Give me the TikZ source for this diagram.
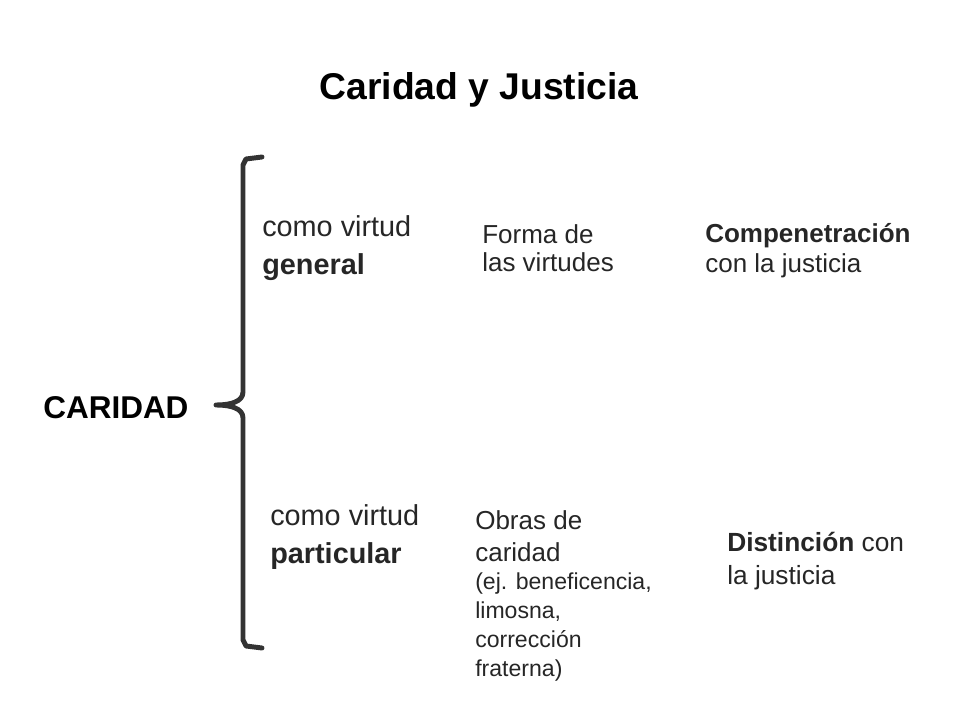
\documentclass[tikz,border=0pt]{standalone}
\usepackage{fontspec}
\setmainfont{Liberation Sans}
\usetikzlibrary{positioning}
\tikzset{
  txt/.style={anchor=north west, inner sep=0pt, align=left, text=black!85},
  brace/.style={line width=3.5pt, draw=black!80, line cap=round, line join=round},
}
\begin{document}
\begin{tikzpicture}[x=0.025cm, y=-0.025cm]
\useasboundingbox (0,0) rectangle (960,720);
\node (title) [inner sep=0pt, font=\fontsize{26.5}{30}\selectfont\bfseries] at (479,90) {Caridad y Justicia};

% llave
\draw [brace] (262,157) -- (246,159) -- (243,165) -- (243,392) .. controls (243,402) and (230,405) .. (216,405)
  .. controls (230,405) and (243,408) .. (243,418) -- (243,640) -- (246,646) -- (262,648);

\node (car) [anchor=west, inner sep=0pt, font=\fontsize{22.4}{26}\selectfont\bfseries] at (43,408) {CARIDAD};

\node (gen) [txt, font=\fontsize{20.5}{27}\selectfont] at (262,215) {como virtud\\\textbf{general}};
\node (forma) [txt, font=\fontsize{18.5}{20}\selectfont] at (482,224) {Forma de\\las virtudes};
\node (comp) [txt, font=\fontsize{18.5}{21.5}\selectfont] at (705,223) {\textbf{Compenetración}\\con la justicia};

\node (par) [txt, font=\fontsize{20.5}{27}\selectfont] at (270,504) {como virtud\\\textbf{particular}};
\node (obras) [txt, font=\fontsize{18.5}{22.7}\selectfont] at (475,510) {Obras de\\caridad};
\node (ej) [txt, font=\fontsize{16.4}{20.6}\selectfont] at (475,573) {(ej. beneficencia,\\limosna,\\corrección\\fraterna)};
\node (dist) [txt, font=\fontsize{18.7}{23.5}\selectfont] at (727,532) {\textbf{Distinción} con\\la justicia};
\end{tikzpicture}
\end{document}
